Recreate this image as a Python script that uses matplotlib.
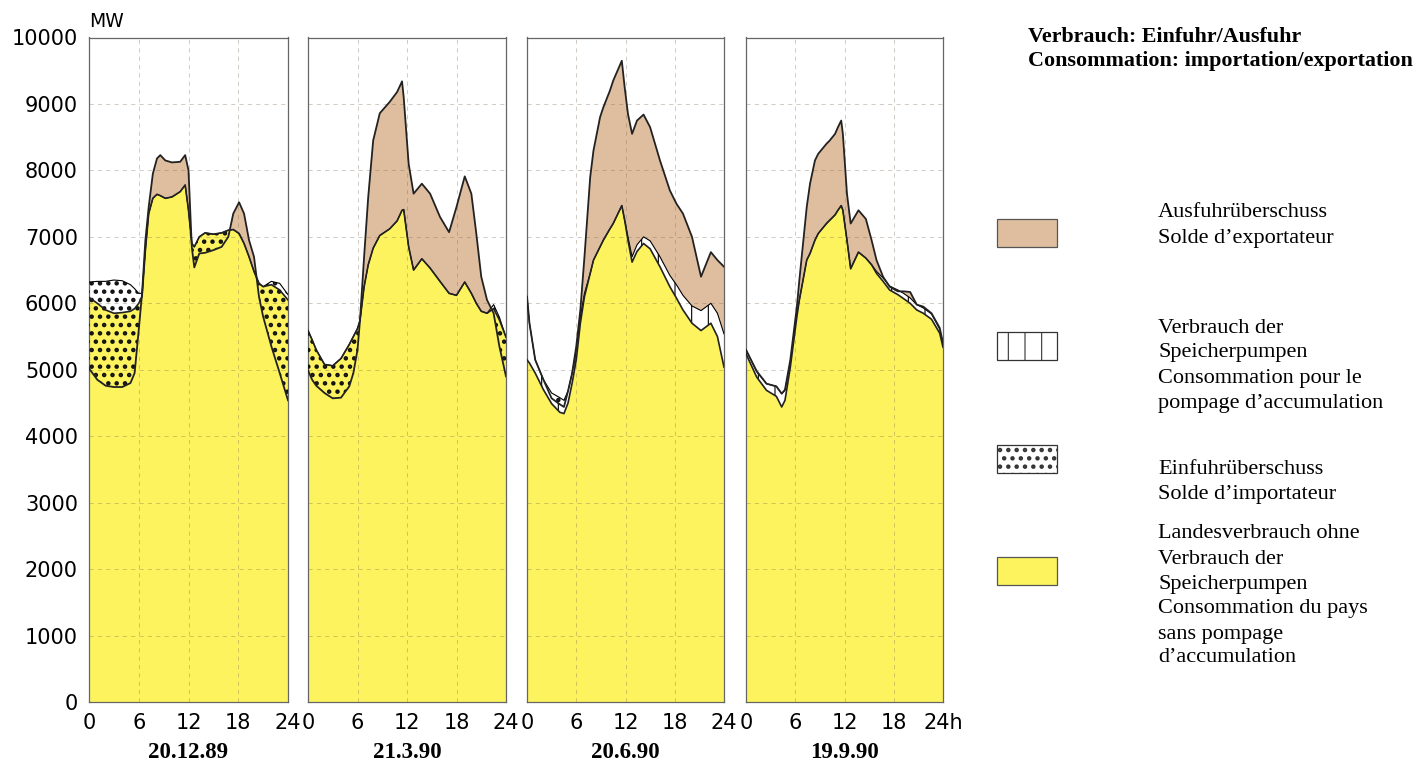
import numpy as np
import matplotlib
matplotlib.use("Agg")
import matplotlib.pyplot as plt
from matplotlib.patches import Rectangle

# ---------------- data (MW) ----------------
dates = ["20.12.89", "21.3.90", "20.6.90", "19.9.90"]
y_ticks = [0, 1000, 2000, 3000, 4000, 5000, 6000, 7000, 8000, 9000, 10000]
x_ticks = [0, 6, 12, 18, 24]

# 20.12.89
dec_hours = [0, 1, 2, 3, 4, 5, 5.5, 6, 6.4, 6.8, 7.2, 7.7, 8.2, 8.6, 9.2, 10, 11, 11.6, 12, 12.4,
             12.7, 13.3, 14, 15, 16, 16.8, 17.4, 18.1, 18.7, 19.3, 19.9, 20.5, 21, 22, 23, 24]
dec_land = [6090, 6000, 5900, 5850, 5860, 5880, 5920, 6000, 6100, 6800, 7350, 7580, 7640, 7620, 7580, 7600,
            7680, 7780, 7400, 6900, 6850, 7000, 7060, 7040, 7060, 7100, 7110, 7050, 6900, 6700, 6480,
            6300, 6250, 6280, 6200, 6050]
dec_pump = [230, 330, 430, 500, 480, 400, 300, 150, 50, 0, 0, 0, 0, 0, 0, 0, 0, 0, 0, 0,
            0, 0, 0, 0, 0, 0, 0, 0, 0, 0, 0, 0, 0, 50, 100, 80]
dec_prod = [5020, 4850, 4760, 4740, 4740, 4800, 4950, 5600, 6150, 6950, 7450, 7950, 8180, 8230, 8150, 8120,
            8130, 8230, 8000, 6840, 6540, 6750, 6760, 6800, 6850, 7000, 7350, 7520, 7350, 6950, 6700,
            6100, 5800, 5350, 4950, 4540]

# 21.3.90
mar_hours = [0, 0.5, 1, 2, 3, 4, 5, 5.5, 6, 6.3, 6.8, 7.3, 7.9, 8.7, 9.9, 10.8, 11.4, 11.6, 12.2, 12.8,
             13.8, 14.8, 16, 17.1, 18, 19, 19.8, 20.4, 21, 21.7, 22.5, 23.2, 24]
mar_land = [5590, 5450, 5300, 5080, 5060, 5170, 5380, 5500, 5620, 5740, 6250, 6580, 6830, 7020, 7120, 7240,
            7400, 7410, 6850, 6500, 6670, 6530, 6330, 6150, 6120, 6320, 6150, 6000, 5880, 5850, 5920,
            5750, 5490]
mar_pump = [0, 0, 0, 0, 0, 0, 0, 0, 0, 0, 0, 0, 0, 0, 0, 0, 0, 0, 0, 0,
            0, 0, 0, 0, 0, 0, 0, 0, 0, 0, 60, 40, 0]
mar_prod = [4990, 4850, 4760, 4650, 4570, 4580, 4750, 4950, 5300, 5740, 6700, 7600, 8450, 8860, 9030, 9180,
            9340, 9100, 8100, 7650, 7800, 7650, 7300, 7070, 7450, 7910, 7650, 7050, 6400, 6050, 5850,
            5350, 4900]

# 20.6.90
jun_hours = [0, 0.3, 1, 2, 3, 4, 4.5, 5, 5.5, 6, 6.5, 7, 7.7, 8.1, 8.9, 9.3, 10.1, 10.5, 11.55, 11.9,
             12.3, 12.8, 13.4, 14.2, 15, 16.2, 17.4, 18.2, 19, 20.1, 21.2, 22.4, 23.2, 24]
jun_land = [5150, 5100, 4950, 4700, 4490, 4360, 4340, 4500, 4800, 5150, 5700, 6100, 6450, 6650, 6850, 6950,
            7120, 7200, 7470, 7250, 6950, 6620, 6780, 6900, 6820, 6550, 6250, 6080, 5900, 5700, 5590,
            5700, 5500, 5040]
jun_pump = [950, 600, 200, 150, 160, 220, 200, 180, 150, 150, 100, 50, 0, 0, 0, 0,
            0, 0, 0, 0, 50, 80, 100, 100, 120, 150, 170, 200, 220, 260, 300, 300, 350, 500]
jun_prod = [6100, 5700, 5150, 4850, 4570, 4480, 4440, 4680, 4950, 5350, 5900, 6700, 7900, 8300, 8800, 8950,
            9200, 9350, 9650, 9250, 8850, 8550, 8750, 8840, 8650, 8150, 7700, 7500, 7350, 7000, 6400,
            6770, 6650, 6550]

# 19.9.90
sep_hours = [0, 1.3, 2.5, 3.7, 4.35, 4.75, 5.4, 6.2, 6.5, 7.4, 7.8, 8.4, 8.8, 9.8, 10.2, 10.85, 11.2,
             11.6, 11.8, 12.3, 12.75, 13.7, 14.6, 15.3, 15.9, 16.7, 17.5, 18.5, 19.2, 20.0, 20.8,
             21.6, 22.6, 23.6, 24]
sep_land = [5240, 4890, 4690, 4600, 4440, 4540, 5040, 5800, 6050, 6650, 6750, 6950, 7050, 7200, 7250,
            7330, 7400, 7470, 7400, 6950, 6520, 6770, 6680, 6580, 6450, 6330, 6200, 6130, 6070, 6000,
            5900, 5850, 5760, 5550, 5340]
sep_pump = [60, 80, 100, 150, 200, 150, 80, 50, 0, 0, 0, 0, 0, 0, 0, 0, 0, 0, 0, 0, 0, 0, 0, 0,
            30, 50, 60, 70, 80, 80, 80, 80, 80, 60, 50]
sep_prod = [5300, 4980, 4790, 4750, 4640, 4700, 5150, 5950, 6350, 7450, 7800, 8150, 8250, 8400, 8450,
            8550, 8650, 8750, 8550, 7650, 7200, 7400, 7270, 6950, 6650, 6400, 6250, 6180, 6180, 6170,
            5980, 5950, 5850, 5630, 5400]

# ---------------- style ----------------
YELLOW = "#FDF35E"
BROWN = "#DFBE9F"
DOT_HATCH = ".."
DOT_LW = 2.0
LINE_LW = 0.8

fig = plt.figure(figsize=(14.17, 7.8), dpi=100)
W, H = 1417.0, 780.0

panels = [
    (dec_hours, dec_land, dec_pump, dec_prod, 89, 199),
    (mar_hours, mar_land, mar_pump, mar_prod, 308, 198),
    (jun_hours, jun_land, jun_pump, jun_prod, 527, 197),
    (sep_hours, sep_land, sep_pump, sep_prod, 746, 197),
]
top_px, bot_px = 37.5, 702.0

tick_font = dict(family="DejaVu Sans", size=15)

for i, (hrs, land, pump, prod, x0, w) in enumerate(panels):
    ax = fig.add_axes([x0 / W, 1 - bot_px / H, w / W, (bot_px - top_px) / H])
    h = np.array(hrs, float)
    L = np.array(land, float)
    C = L + np.array(pump, float)
    G = np.array(prod, float)

    ax.fill_between(h, 0, L, facecolor=YELLOW, lw=0, zorder=1)
    ax.fill_between(h, L, C, facecolor="white", lw=0, zorder=2)
    hatch_top = np.minimum(C, np.maximum(G, L))
    with plt.rc_context({"hatch.linewidth": LINE_LW}):
        ax.fill_between(h, L, hatch_top, facecolor="none", edgecolor="black",
                        hatch="|", lw=0, zorder=2.5)
    ax.fill_between(h, C, G, where=G >= C, interpolate=True,
                    facecolor=BROWN, lw=0, zorder=2)
    with plt.rc_context({"hatch.linewidth": DOT_LW}):
        ax.fill_between(h, G, C, where=G < C, interpolate=True,
                        facecolor="none", edgecolor="#111111", hatch=DOT_HATCH, lw=0, zorder=3)

    # grid
    for yv in y_ticks[1:-1]:
        ax.axhline(yv, color="#7a6a50", lw=0.6, ls=(0, (5, 5)), alpha=0.4, zorder=4)
    for xv in x_ticks[1:-1]:
        ax.axvline(xv, color="#7a6a50", lw=0.6, ls=(0, (5, 5)), alpha=0.4, zorder=4)

    ax.plot(h, C, color="black", lw=0.8, zorder=5)
    ax.plot(h, L, color="#222222", lw=1.2, zorder=5)
    ax.plot(h, G, color="#222222", lw=1.3, zorder=6)

    ax.set_xlim(0, 24)
    ax.set_ylim(0, 10000)
    ax.set_xticks(x_ticks)
    labels = [str(v) for v in x_ticks]
    if i == len(panels) - 1:
        labels[-1] = "24h"
    ax.set_xticklabels(labels, fontdict=tick_font)
    ax.set_yticks(y_ticks)
    if i == 0:
        ax.set_yticklabels([str(v) for v in y_ticks], fontdict=tick_font)
    else:
        ax.set_yticklabels([])
    ax.tick_params(length=0, pad=8)
    for s in ax.spines.values():
        s.set_color("#666666")
        s.set_linewidth(0.9)

    fig.text((x0 + w / 2) / W, 1 - 753 / H, dates[i], ha="center", va="center",
             family="Liberation Serif", weight="bold", size=16.5)

fig.text(89 / W, 1 - 31 / H, "MW", ha="left", va="bottom", family="DejaVu Sans", size=13.5)

# ---------------- legend ----------------
fig.text(1028 / W, 1 - 37 / H, "Verbrauch: Einfuhr/Ausfuhr", ha="left", va="center",
         family="Liberation Serif", weight="bold", size=15.8)
fig.text(1028 / W, 1 - 61 / H, "Consommation: importation/exportation", ha="left", va="center",
         family="Liberation Serif", weight="bold", size=15.8)

legend_items = [
    (219, dict(facecolor=BROWN, edgecolor="#555555"), None,
     [(213, "Ausfuhrüberschuss"), (238, "Solde d\u2019exportateur")]),
    (332, dict(facecolor="white", edgecolor="#333333", hatch="|"), LINE_LW,
     [(328, "Verbrauch der"), (353, "Speicherpumpen"), (378, "Consommation pour le"), (403, "pompage d\u2019accumulation")]),
    (445, dict(facecolor="white", edgecolor="#333333", hatch=DOT_HATCH), DOT_LW,
     [(469, "Einfuhrüberschuss"), (494, "Solde d\u2019importateur")]),
    (557, dict(facecolor=YELLOW, edgecolor="#555555"), None,
     [(534, "Landesverbrauch ohne"), (559, "Verbrauch der"), (584, "Speicherpumpen"),
      (609, "Consommation du pays"), (634, "sans pompage"), (658, "d\u2019accumulation")]),
]
for ytop, style, hlw, lines in legend_items:
    with plt.rc_context({"hatch.linewidth": hlw if hlw else 1.0}):
        r = Rectangle((997 / W, 1 - (ytop + 28) / H), 60 / W, 28 / H, transform=fig.transFigure,
                      lw=0.9, **style)
    fig.patches.append(r)
    for yy, t in lines:
        fig.text(1158 / W, 1 - yy / H, t, ha="left", va="center",
                 family="Liberation Serif", size=16)

fig.savefig("out.png", dpi=100)
